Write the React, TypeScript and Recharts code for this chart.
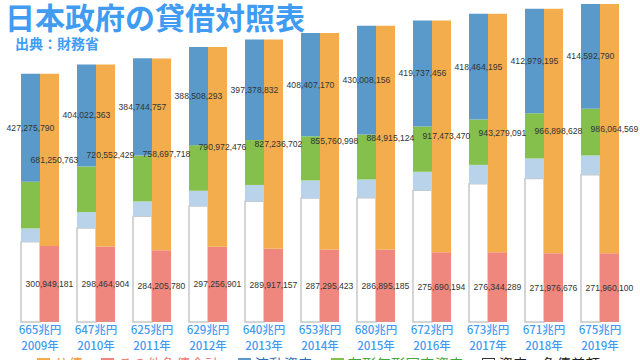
import React from "react";
import { BarChart, Bar, XAxis, YAxis, LabelList } from "recharts";

// 単位：百万円（ラベルのない系列はグラフから読み取った概算値）
const years = ["2009年", "2010年", "2011年", "2012年", "2013年", "2014年", "2015年", "2016年", "2017年", "2018年", "2019年"];
const assetTotals = ["665兆円", "647兆円", "625兆円", "629兆円", "640兆円", "653兆円", "680兆円", "672兆円", "673兆円", "671兆円", "675兆円"];

const otherLiabilities = [300949181, 298464904, 284205780, 297256901, 289917157, 287295423, 286895185, 275690194, 276344289, 271976676, 271960100];
const bonds = [681250763, 720552429, 758697718, 790972476, 827236702, 855760998, 884915124, 917473470, 943279091, 966898628, 986064569];
const currentAssets = [427275790, 404022363, 384744757, 388508293, 397378832, 408407170, 430008156, 419737456, 418464195, 412979195, 414592790];
const fixedAssets = [184700000, 180000000, 181300000, 180500000, 177600000, 174600000, 178000000, 179300000, 179500000, 179000000, 184400000];
const otherAssets = [53000000, 63000000, 59000000, 60000000, 65000000, 70000000, 72000000, 73000000, 75000000, 79000000, 76000000];
const netGap = [317200000, 372000000, 417900000, 459200000, 477200000, 490100000, 491800000, 521200000, 546600000, 567900000, 583000000];

const data = years.map((year, i) => ({
	year,
	total: assetTotals[i],
	gap: netGap[i],
	other: otherAssets[i],
	fixed: fixedAssets[i],
	current: currentAssets[i],
	liab: otherLiabilities[i],
	bond: bonds[i],
}));

const BLUE = "#5a9acb";
const ORANGE = "#f4ad4d";
const GREEN = "#84c04b";
const SALMON = "#f0877f";
const LIGHT = "#b9d4ea";
const TITLE = "#3f9cf2";

const fmt = (v: any) => Number(v).toLocaleString("en-US");

const labelStyle = { fontSize: 8.6, fill: "#333", fontFamily: "Liberation Sans, Arial, sans-serif" };

const centerLabel = (dx: number) => (p: any) => (
	<text
		x={p.x + p.width / 2 + dx}
		y={p.y + p.height / 2}
		textAnchor="middle"
		dominantBaseline="central"
		style={labelStyle}
	>
		{fmt(p.value)}
	</text>
);

const YearTick = (props: any) => {
	const { x, y, payload } = props;
	const row = data[payload.index];
	return (
		<g transform={`translate(${x},${y})`}>
			<text textAnchor="middle" y={11.5} fill={TITLE} fontSize={11.5} fontWeight={500} fontFamily="Noto Sans CJK JP">
				{row ? row.total : ""}
			</text>
			<text textAnchor="middle" y={28} fill={TITLE} fontSize={11.5} fontWeight={500} fontFamily="Noto Sans CJK JP">
				{payload.value}
			</text>
		</g>
	);
};

const legendItems = [
	{ name: "公債", color: ORANGE, text: "#f29a35" },
	{ name: "その他負債合計", color: SALMON, text: "#f07a72" },
	{ name: "流動資産", color: BLUE, text: "#2f6fb8" },
	{ name: "有形無形固定資産", color: GREEN, text: "#45a83a" },
	{ name: "資産・負債差額", color: "#fff", text: "#222", border: "#333" },
];

export default function App() {
	return (
		<div style={{ position: "fixed", left: 0, top: 0, width: 640, height: 360, background: "#fff", overflow: "hidden", fontFamily: "Noto Sans CJK JP" }}>
			<BarChart
				width={640}
				height={360}
				data={data}
				margin={{ top: 4, right: 12, bottom: 8, left: 12 }}
				barCategoryGap={9}
				barGap={0}
			>
				<XAxis dataKey="year" height={30} axisLine={false} tickLine={false} tickSize={0} tickMargin={0} interval={0} tick={<YearTick />} />
				<YAxis hide domain={[0, "dataMax"]} />
				<Bar dataKey="gap" stackId="a" fill="#fff" stroke="#c8c8c8" strokeWidth={1.5} isAnimationActive={false} />
				<Bar dataKey="other" stackId="a" fill={LIGHT} isAnimationActive={false} />
				<Bar dataKey="fixed" stackId="a" fill={GREEN} isAnimationActive={false} />
				<Bar dataKey="current" stackId="a" fill={BLUE} isAnimationActive={false}>
					<LabelList dataKey="current" content={centerLabel(0)} />
				</Bar>
				<Bar dataKey="liab" stackId="b" fill={SALMON} isAnimationActive={false}>
					<LabelList dataKey="liab" content={centerLabel(0)} />
				</Bar>
				<Bar dataKey="bond" stackId="b" fill={ORANGE} isAnimationActive={false}>
					<LabelList dataKey="bond" content={centerLabel(5)} />
				</Bar>
			</BarChart>

			<div style={{ position: "absolute", left: 5, top: 1, fontSize: 30, lineHeight: "30px", fontWeight: 700, color: TITLE, whiteSpace: "nowrap" }}>
				日本政府の貸借対照表
			</div>
			<div style={{ position: "absolute", left: 15, top: 35, fontSize: 14, lineHeight: "16px", fontWeight: 700, color: TITLE, whiteSpace: "nowrap" }}>
				出典：財務省
			</div>

			<div style={{ position: "absolute", left: 37, top: 355, display: "flex", gap: 18, fontSize: 14.5, lineHeight: "18px", whiteSpace: "nowrap" }}>
				{legendItems.map((it) => (
					<div key={it.name} style={{ display: "flex", alignItems: "center", gap: 4, color: it.text }}>
						<span style={{ width: 11, height: 11, background: it.color, border: `1px solid ${it.border || it.color}`, display: "inline-block" }} />
						{it.name}
					</div>
				))}
			</div>
		</div>
	);
}
